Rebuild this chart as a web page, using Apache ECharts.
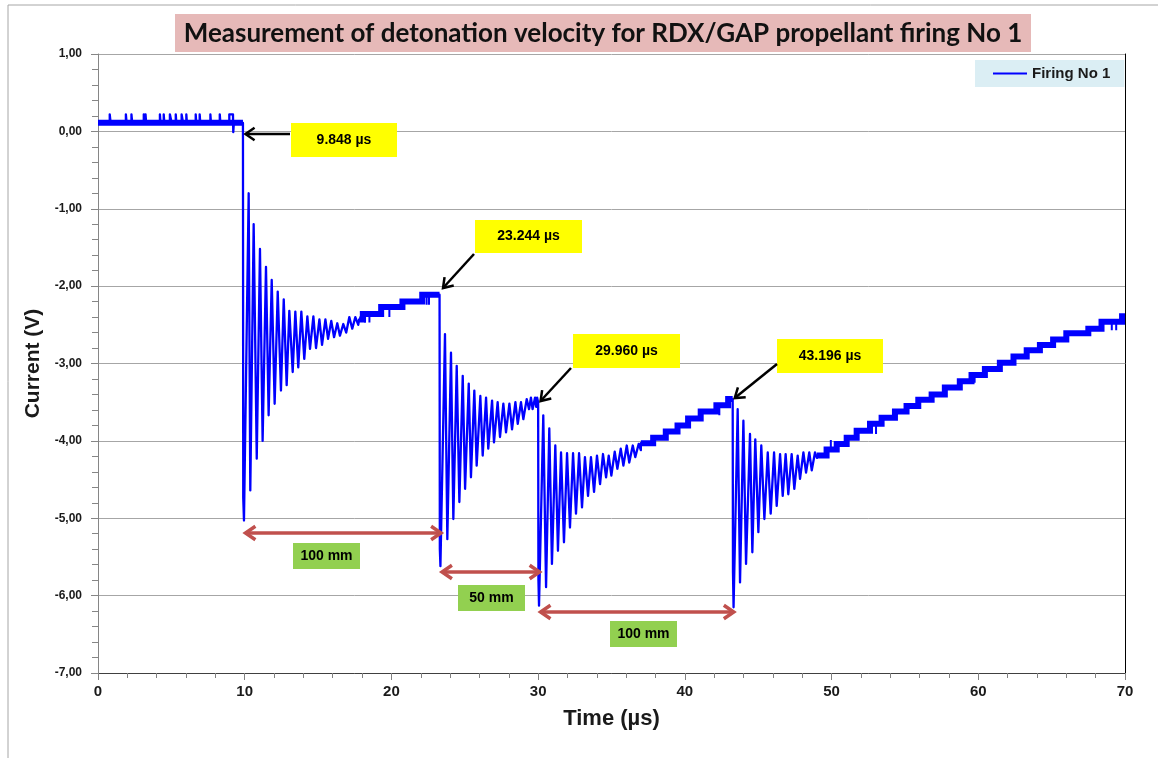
<!DOCTYPE html>
<html><head><meta charset="utf-8">
<script src="https://cdn.jsdelivr.net/npm/echarts@6/dist/echarts.min.js"></script>
<style>html,body{margin:0;padding:0;background:#fff}#c{width:1160px;height:758px}</style>
</head><body><div id="c"></div>
<script>
// ---------------- DATA ----------------
const titleText = 'Measurement of detonation velocity for RDX/GAP propellant firing No 1';
const seriesName = 'Firing No 1';
const xTicks = { min: 0, max: 70, step: 10 };
const yTicks = { min: -7, max: 1, step: 1 };

const eventTimes = [9.848, 23.244, 29.960, 43.196];
const eventLabels = ['9.848 µs', '23.244 µs', '29.960 µs', '43.196 µs'];
const distLabels = ['100 mm', '50 mm', '100 mm'];

// pre-trigger baseline (level + narrow upward spikes)
const preTrigger = [
 [0,0.11],[0.80,0.11],[0.80,0.22],[0.86,0.22],[0.86,0.11],
 [1.90,0.11],[1.90,0.22],[1.95,0.22],[1.95,0.11],
 [2.28,0.11],[2.28,0.22],[2.33,0.22],[2.33,0.11],
 [3.12,0.11],[3.12,0.22],[3.16,0.22],[3.16,0.11],[3.24,0.11],[3.24,0.22],[3.28,0.22],[3.28,0.11],
 [4.22,0.11],[4.22,0.22],[4.26,0.22],[4.26,0.11],
 [4.48,0.11],[4.48,0.22],[4.52,0.22],[4.52,0.11],
 [4.90,0.11],[4.90,0.22],[5.02,0.22],[5.02,0.11],
 [5.30,0.11],[5.30,0.22],[5.34,0.22],[5.34,0.11],
 [5.70,0.11],[5.70,0.22],[5.80,0.22],[5.80,0.11],
 [6.02,0.11],[6.02,0.22],[6.06,0.22],[6.06,0.11],
 [6.66,0.11],[6.66,0.22],[6.70,0.22],[6.70,0.11],
 [6.93,0.11],[6.93,0.22],[6.97,0.22],[6.97,0.11],
 [7.66,0.11],[7.66,0.22],[7.70,0.22],[7.70,0.11],
 [8.30,0.11],[8.30,0.22],[8.34,0.22],[8.34,0.11],
 [8.95,0.11],[8.95,0.22],[9.20,0.22],[9.22,-0.01],[9.26,0.11],[9.88,0.11]
];
const baseBand = [[0,0.11],[9.88,0.11]];

// ring-down after 1st probe
const ring1 = [
 [9.88,0.11],[9.90,-4.74],[9.95,-5.03],[10.27,-0.80],[10.38,-4.64],[10.61,-1.20],[10.82,-4.23],
 [11.04,-1.52],[11.22,-4.00],[11.45,-1.75],[11.63,-3.67],[11.84,-1.92],[12.04,-3.52],[12.25,-2.07],
 [12.47,-3.35],[12.66,-2.17],[12.86,-3.28],[13.04,-2.32],[13.27,-3.11],[13.45,-2.33],[13.65,-3.05],
 [13.86,-2.33],[14.06,-2.94],[14.27,-2.39],[14.45,-2.81],[14.68,-2.39],[14.86,-2.80],[15.09,-2.43],
 [15.27,-2.76],[15.50,-2.43],[15.68,-2.68],[15.90,-2.45],[16.09,-2.66],[16.31,-2.48],[16.49,-2.64],
 [16.72,-2.49],[16.92,-2.60],[17.13,-2.40],[17.33,-2.55],[17.54,-2.40],[17.74,-2.50]
];
const stairs1 = [
 [17.80,-2.43],[18.05,-2.43],[18.05,-2.36],[19.30,-2.36],[19.30,-2.27],[20.75,-2.27],
 [20.75,-2.20],[22.10,-2.20],[22.10,-2.11],[23.28,-2.11]
];
// ring-down after 2nd probe
const ring2 = [
 [23.28,-2.11],[23.30,-5.40],[23.34,-5.62],[23.65,-2.62],[23.81,-5.27],[24.06,-2.86],[24.22,-5.01],
 [24.45,-3.03],[24.63,-4.79],[24.86,-3.16],[25.02,-4.62],[25.27,-3.26],[25.42,-4.47],[25.65,-3.35],
 [25.81,-4.32],[26.06,-3.42],[26.22,-4.19],[26.45,-3.44],[26.60,-4.10],[26.86,-3.48],[26.99,-4.02],
 [27.24,-3.50],[27.40,-3.95],[27.63,-3.52],[27.81,-3.89],[28.04,-3.52],[28.22,-3.85],[28.45,-3.50],
 [28.61,-3.78],[28.83,-3.50],[28.99,-3.72],[29.22,-3.46],[29.38,-3.59],[29.51,-3.44],[29.62,-3.59],
 [29.79,-3.44],[29.87,-3.56],[29.93,-3.44],[30.00,-3.50]
];
// ring-down after 3rd probe
const ring3 = [
 [30.00,-3.50],[30.02,-5.80],[30.06,-6.13],[30.35,-3.67],[30.54,-5.89],[30.76,-3.84],[30.94,-5.59],
 [31.17,-4.06],[31.35,-5.42],[31.56,-4.15],[31.76,-5.31],[31.97,-4.16],[32.17,-5.12],[32.38,-4.16],
 [32.58,-4.94],[32.79,-4.16],[32.99,-4.86],[33.19,-4.21],[33.40,-4.71],[33.60,-4.21],[33.81,-4.66],
 [34.01,-4.19],[34.22,-4.56],[34.42,-4.17],[34.63,-4.47],[34.81,-4.19],[34.99,-4.45],[35.22,-4.14],
 [35.40,-4.36],[35.63,-4.10],[35.81,-4.32],[36.04,-4.06],[36.21,-4.28],[36.45,-4.06],[36.62,-4.21],
 [36.85,-4.04],[37.00,-4.12]
];
const stairs3 = [
 [37.00,-4.03],[37.84,-4.03],[37.84,-3.96],[38.70,-3.96],[38.70,-3.88],[39.50,-3.88],[39.50,-3.80],
 [40.22,-3.80],[40.22,-3.71],[41.08,-3.71],[41.08,-3.62],[42.15,-3.62],[42.15,-3.54],[42.95,-3.54],
 [42.95,-3.46],[43.26,-3.46]
];
// ring-down after 4th probe
const ring4 = [
 [43.26,-3.46],[43.28,-5.70],[43.32,-6.15],[43.60,-3.59],[43.76,-5.83],[43.99,-3.74],[44.17,-5.59],
 [44.44,-3.91],[44.60,-5.44],[44.80,-3.98],[45.01,-5.18],[45.21,-4.06],[45.42,-5.01],[45.65,-4.15],
 [45.85,-4.94],[46.08,-4.15],[46.26,-4.84],[46.49,-4.17],[46.67,-4.71],[46.87,-4.17],[47.05,-4.69],
 [47.28,-4.17],[47.46,-4.62],[47.69,-4.19],[47.85,-4.49],[48.08,-4.15],[48.26,-4.41],[48.48,-4.15],
 [48.65,-4.38],[48.87,-4.15],[49.00,-4.22]
];
const stairs4 = [
 [49.00,-4.19],[49.66,-4.19],[49.66,-4.11],[50.35,-4.11],[50.35,-4.04],[51.03,-4.04],[51.03,-3.96],
 [51.71,-3.96],[51.71,-3.87],[52.62,-3.87],[52.62,-3.78],[53.41,-3.78],[53.41,-3.70],[54.32,-3.70],
 [54.32,-3.62],[55.11,-3.62],[55.11,-3.55],[55.91,-3.55],[55.91,-3.47],[56.82,-3.47],[56.82,-3.40],
 [57.72,-3.40],[57.72,-3.31],[58.74,-3.31],[58.74,-3.23],[59.54,-3.23],[59.54,-3.15],[60.45,-3.15],
 [60.45,-3.07],[61.47,-3.07],[61.47,-2.99],[62.40,-2.99],[62.40,-2.91],[63.30,-2.91],[63.30,-2.83],
 [64.20,-2.83],[64.20,-2.76],[65.10,-2.76],[65.10,-2.69],[66.00,-2.69],[66.00,-2.61],[67.50,-2.61],
 [67.50,-2.55],[68.40,-2.55],[68.40,-2.46],[69.80,-2.46],[69.80,-2.39],[70.00,-2.39]
];
// isolated glitches on the stair sections: [time, band level, glitch level]
const glitches = [
 [18.20,-2.36,-2.47],[18.50,-2.36,-2.47],[19.86,-2.27,-2.40],[22.40,-2.11,-2.24],[22.56,-2.11,-2.24],
 [42.35,-3.54,-3.67],[49.95,-4.11,-3.99],[53.03,-3.78,-3.91],[59.75,-3.15,-3.25],
 [69.10,-2.46,-2.57],[69.40,-2.46,-2.57]
];

// ---------------- BUILD ----------------
const mainLine = [].concat(preTrigger, ring1, stairs1, ring2, ring3, stairs3, ring4, stairs4);
const bandLine = [].concat(baseBand, [null], stairs1, [null], stairs3, [null], stairs4);
const glitchLine = [];
glitches.forEach(g => { glitchLine.push([g[0], g[1]], [g[0], g[2]], null); });

const BLUE = '#0000ff';
const FONT = '"Liberation Sans", Arial, sans-serif';
const NARROW = '"Liberation Sans Narrow", "Liberation Sans", Arial, sans-serif';

const chart = echarts.init(document.getElementById('c'), null, { renderer: 'canvas' });

const option = {
  animation: false,
  backgroundColor: '#ffffff',
  grid: { left: 98, right: 35, top: 54, bottom: 85, containLabel: false },
  legend: {
    data: [seriesName], left: 975, top: 60,
    backgroundColor: '#dbeef4', padding: [6, 14, 6, 18],
    icon: 'rect', itemWidth: 34, itemHeight: 2, itemGap: 6,
    textStyle: { fontFamily: FONT, fontWeight: 'bold', fontSize: 15, color: '#1a1a1a' }
  },
  xAxis: {
    type: 'value', min: xTicks.min, max: xTicks.max, interval: xTicks.step,
    name: 'Time (µs)', nameLocation: 'middle', nameGap: 35,
    nameTextStyle: { fontFamily: FONT, fontWeight: 'bold', fontSize: 22, color: '#1a1a1a' },
    axisLine: { show: true, onZero: false, lineStyle: { color: '#404040', width: 1 } },
    axisTick: { show: true, inside: false, length: 7, lineStyle: { color: '#808080' } },
    minorTick: { show: true, splitNumber: 5, length: 5, lineStyle: { color: '#808080' } },
    axisLabel: { margin: 11, fontFamily: NARROW, fontWeight: 'bold', fontSize: 15, color: '#1a1a1a' },
    splitLine: { show: false }
  },
  yAxis: [{
    type: 'value', min: yTicks.min, max: yTicks.max, interval: yTicks.step,
    name: 'Current (V)', nameLocation: 'middle', nameGap: 52, nameRotate: 90,
    nameTextStyle: { fontFamily: FONT, fontWeight: 'bold', fontSize: 21, color: '#1a1a1a' },
    axisLine: { show: true, onZero: false, lineStyle: { color: '#868686' } },
    axisTick: { show: true, inside: false, length: 7, lineStyle: { color: '#868686' } },
    minorTick: { show: true, splitNumber: 5, length: 6, lineStyle: { color: '#868686' } },
    axisLabel: { margin: 16, fontFamily: FONT, fontWeight: 'bold', fontSize: 12, color: '#1a1a1a',
      formatter: v => v.toFixed(2).replace('.', ',') },
    splitLine: { show: true, lineStyle: { color: '#a6a6a6', width: 1 } }
  }, {
    type: 'value', min: yTicks.min, max: yTicks.max, position: 'right',
    axisLine: { show: true, onZero: false, lineStyle: { color: '#000', width: 1 } },
    axisTick: { show: false }, axisLabel: { show: false }, splitLine: { show: false }
  }],
  series: [
    { name: seriesName, type: 'line', data: mainLine, showSymbol: false, color: BLUE,
      lineStyle: { color: BLUE, width: 2.3, join: 'round' }, z: 3, silent: true },
    { name: 'band', type: 'line', data: bandLine, showSymbol: false, connectNulls: false,
      lineStyle: { color: BLUE, width: 6, join: 'miter', cap: 'butt' }, z: 2, silent: true },
    { name: 'glitch', type: 'line', data: glitchLine, showSymbol: false, connectNulls: false,
      lineStyle: { color: BLUE, width: 2 }, z: 2, silent: true }
  ]
};
chart.setOption(option);

// ---------------- ANNOTATIONS ----------------
function px(t) { return chart.convertToPixel({ gridIndex: 0 }, [t, 0])[0]; }
function head(tx, ty, fx, fy, len, ang) {
  const dx = fx - tx, dy = fy - ty, d = Math.hypot(dx, dy), ux = dx / d, uy = dy / d;
  const r = a => [tx + len * (ux * Math.cos(a) - uy * Math.sin(a)), ty + len * (ux * Math.sin(a) + uy * Math.cos(a))];
  return [r(ang), [tx, ty], r(-ang)];
}
function arrow(x1, y1, x2, y2, color, w, len, both) {
  const els = [{ type: 'line', shape: { x1, y1, x2, y2 }, style: { stroke: color, lineWidth: w }, z: 100 },
    { type: 'polyline', shape: { points: head(x2, y2, x1, y1, len, 0.6) }, style: { stroke: color, lineWidth: w, fill: null }, z: 100 }];
  if (both) els.push({ type: 'polyline', shape: { points: head(x1, y1, x2, y2, len, 0.6) }, style: { stroke: color, lineWidth: w, fill: null }, z: 100 });
  return els;
}
function box(x, y, w, h, fill, text, size) {
  return [{ type: 'rect', shape: { x, y, width: w, height: h }, style: { fill }, z: 99 },
    { type: 'text', x: x + w / 2, y: y + h / 2, z: 101,
      style: { text, fill: '#000', font: 'bold ' + size + 'px ' + FONT, align: 'center', verticalAlign: 'middle',
        textAlign: 'center', textVerticalAlign: 'middle' } }];
}
const e = eventTimes.map(px);
let g = [];
// outer frame
g.push({ type: 'line', shape: { x1: 8, y1: 5, x2: 1158, y2: 5 }, style: { stroke: '#a6a6a6', lineWidth: 1 } });
g.push({ type: 'line', shape: { x1: 8, y1: 5, x2: 8, y2: 758 }, style: { stroke: '#a6a6a6', lineWidth: 1 } });
// title
g = g.concat([{ type: 'rect', shape: { x: 175, y: 14, width: 856, height: 38 }, style: { fill: '#e6b9b8' }, z: 99 },
  { type: 'text', x: 603, y: 34, z: 101, style: { text: titleText, fill: '#111', font: 'bold 26px Lato, "Open Sans", sans-serif',
    align: 'center', verticalAlign: 'middle', textAlign: 'center', textVerticalAlign: 'middle' } }]);
// event labels + black arrows
const evBoxes = [[291, 123, 106, 34], [475, 220, 107, 33], [573, 334, 107, 34], [777, 339, 106, 34]];
const evArrows = [[290, 134, e[0] + 3, 134], [474, 254, e[1] + 4, 288], [571, 368, e[2] + 3, 401], [777, 364, e[3] + 3, 398]];
eventLabels.forEach((l, i) => {
  g = g.concat(box(evBoxes[i][0], evBoxes[i][1], evBoxes[i][2], evBoxes[i][3], '#ffff00', l, 14));
  const a = evArrows[i];
  g = g.concat(arrow(a[0], a[1], a[2], a[3], '#000', 2.5, 11, false));
});
// distance arrows + labels
const RED = '#c0504d';
const dY = [533, 572, 612];
const dBoxes = [[293, 543, 67, 26], [458, 585, 67, 26], [610, 621, 67, 26]];
distLabels.forEach((l, i) => {
  g = g.concat(arrow(e[i] + 3, dY[i], e[i + 1] + 2, dY[i], RED, 3.5, 12, true));
  g = g.concat(box(dBoxes[i][0], dBoxes[i][1], dBoxes[i][2], dBoxes[i][3], '#92d050', l, 14));
});
chart.setOption({ graphic: { elements: g } });
</script></body></html>
